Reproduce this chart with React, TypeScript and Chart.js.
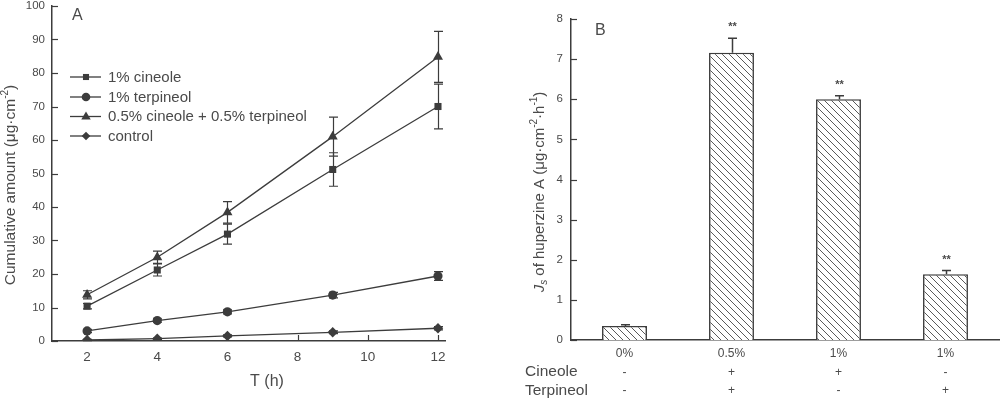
import React, { useEffect, useRef } from 'react';
import { Chart, registerables } from 'chart.js';

Chart.register(...registerables);

const FONT = "'Liberation Sans', Arial, Helvetica, sans-serif";
const INK = '#3c3c3c';
const TEXT = '#4a4a4a';

// ---------- Panel A data ----------
const timeHours = [2, 4, 6, 9, 12];
const xTicksA = [2, 4, 6, 8, 10, 12];
const yTicksA = [0, 10, 20, 30, 40, 50, 60, 70, 80, 90, 100];
const seriesNames = ['1% cineole', '1% terpineol', '0.5% cineole + 0.5% terpineol', 'control'];
const cineole1 = [10.4, 21.2, 31.9, 51.2, 70.0];
const cineole1Err = [0.8, 1.8, 3.0, 5.0, 6.7];
const terpineol1 = [3.0, 6.1, 8.7, 13.7, 19.4];
const terpineol1Err = [0.5, 0.5, 0.6, 0.8, 1.3];
const combo = [13.8, 25.0, 38.4, 61.0, 84.8];
const comboErr = [1.2, 1.8, 3.2, 5.8, 7.6];
const control = [0.3, 0.7, 1.5, 2.6, 3.8];
const controlErr = [0.2, 0.2, 0.3, 0.4, 0.5];

// ---------- Panel B data ----------
const enhancerLabels = ['0%', '0.5%', '1%', '1%'];
const fluxValues = [0.35, 7.16, 6.0, 1.64];
const fluxErr = [0.03, 0.36, 0.09, 0.09];
const significance = ['', '**', '**', '**'];
const cineoleRow = ['-', '+', '+', '-'];
const terpineolRow = ['-', '+', '-', '+'];
const yTicksB = [0, 1, 2, 3, 4, 5, 6, 7, 8];

type Seg = { t: string; size: number; dy?: number; italic?: boolean };

function drawRich(ctx: CanvasRenderingContext2D, segs: Seg[], cx: number, cy: number, rotate: boolean, color: string) {
  ctx.save();
  ctx.fillStyle = color;
  ctx.textBaseline = 'middle';
  ctx.textAlign = 'left';
  let total = 0;
  const widths = segs.map((s) => {
    ctx.font = `${s.italic ? 'italic ' : ''}${s.size}px ${FONT}`;
    const w = ctx.measureText(s.t).width;
    total += w;
    return w;
  });
  ctx.translate(cx, cy);
  if (rotate) ctx.rotate(-Math.PI / 2);
  let x = -total / 2;
  segs.forEach((s, i) => {
    ctx.font = `${s.italic ? 'italic ' : ''}${s.size}px ${FONT}`;
    ctx.fillText(s.t, x, s.dy || 0);
    x += widths[i];
  });
  ctx.restore();
}

function drawMarker(ctx: CanvasRenderingContext2D, style: string, x: number, y: number, r: number) {
  ctx.beginPath();
  if (style === 'rect') {
    const s = r * Math.SQRT1_2;
    ctx.rect(x - s, y - s, 2 * s, 2 * s);
  } else if (style === 'circle') {
    ctx.arc(x, y, r, 0, Math.PI * 2);
  } else if (style === 'triangle') {
    ctx.moveTo(x, y - r);
    ctx.lineTo(x + r * 0.95, y + r * 0.6);
    ctx.lineTo(x - r * 0.95, y + r * 0.6);
    ctx.closePath();
  } else {
    ctx.moveTo(x, y - r);
    ctx.lineTo(x + r, y);
    ctx.lineTo(x, y + r);
    ctx.lineTo(x - r, y);
    ctx.closePath();
  }
  ctx.fill();
}

const inwardTicks = (axes: { id: string; len: number }[]) => ({
  id: 'inwardTicks',
  beforeDatasetsDraw(chart: any) {
    const ctx = chart.ctx as CanvasRenderingContext2D;
    const ca = chart.chartArea;
    ctx.save();
    ctx.strokeStyle = INK;
    ctx.lineWidth = 1.2;
    for (const a of axes) {
      const s = chart.scales[a.id];
      s.ticks.forEach((_t: any, i: number) => {
        const p = Math.round(s.getPixelForTick(i)) + 0.5;
        ctx.beginPath();
        if (s.isHorizontal()) {
          ctx.moveTo(p, ca.bottom);
          ctx.lineTo(p, ca.bottom - a.len);
        } else {
          ctx.moveTo(ca.left, p);
          ctx.lineTo(ca.left + a.len, p);
        }
        ctx.stroke();
      });
    }
    ctx.restore();
  },
});

const fixAxis = (size: number) => (s: any) => {
  if (s.isHorizontal()) s.height = size;
  else s.width = size;
  s.paddingTop = 0;
  s.paddingBottom = 0;
  s.paddingLeft = 0;
  s.paddingRight = 0;
};

const noGrid = { display: false, drawTicks: false, tickLength: 0 };

export default function App() {
  const refA = useRef<HTMLCanvasElement>(null);
  const refB = useRef<HTMLCanvasElement>(null);

  useEffect(() => {
    const markerStyles = ['rect', 'circle', 'triangle', 'rectRot'];
    const markerRadius = [5, 4.6, 5.8, 5.2];
    const values = [cineole1, terpineol1, combo, control];
    const errors = [cineole1Err, terpineol1Err, comboErr, controlErr];

    const errorBarsA = {
      id: 'errorBarsA',
      beforeDatasetsDraw(chart: any) {
        const ctx = chart.ctx as CanvasRenderingContext2D;
        const ys = chart.scales.y;
        ctx.save();
        ctx.strokeStyle = INK;
        ctx.lineWidth = 1.2;
        errors.forEach((errArr, di) => {
          const meta = chart.getDatasetMeta(di);
          meta.data.forEach((pt: any, j: number) => {
            const v = values[di][j];
            const top = ys.getPixelForValue(v + errArr[j]);
            const bot = ys.getPixelForValue(Math.max(0, v - errArr[j]));
            const x = Math.round(pt.x) + 0.5;
            ctx.beginPath();
            ctx.moveTo(x, top);
            ctx.lineTo(x, bot);
            ctx.moveTo(x - 4.5, top);
            ctx.lineTo(x + 4.5, top);
            ctx.moveTo(x - 4.5, bot);
            ctx.lineTo(x + 4.5, bot);
            ctx.stroke();
          });
        });
        ctx.restore();
      },
    };

    const decorA = {
      id: 'decorA',
      afterDraw(chart: any) {
        const ctx = chart.ctx as CanvasRenderingContext2D;
        ctx.save();
        ctx.fillStyle = TEXT;
        ctx.font = `16px ${FONT}`;
        ctx.textBaseline = 'middle';
        ctx.textAlign = 'left';
        ctx.fillText('A', 72, 16);
        const rowsY = [77, 97, 116.5, 136];
        seriesNames.forEach((name, i) => {
          const y = rowsY[i];
          ctx.strokeStyle = INK;
          ctx.lineWidth = 1.3;
          ctx.beginPath();
          ctx.moveTo(70, y);
          ctx.lineTo(101, y);
          ctx.stroke();
          ctx.fillStyle = INK;
          drawMarker(ctx, markerStyles[i], 86, y, i === 2 ? 5 : 4.3);
          ctx.fillStyle = TEXT;
          ctx.font = `15px ${FONT}`;
          ctx.fillText(name, 108, y + 0.5);
        });
        ctx.restore();
        drawRich(ctx, [
          { t: 'Cumulative amount (μg·cm', size: 15.5 },
          { t: '-2', size: 10, dy: -6 },
          { t: ')', size: 15.5 },
        ], 11, 185, true, TEXT);
        drawRich(ctx, [{ t: 'T (h)', size: 16 }], 267, 382, false, TEXT);
      },
    };

    const chartA = new Chart(refA.current!, {
      type: 'line',
      data: {
        datasets: seriesNames.map((name, i) => ({
          label: name,
          data: timeHours.map((t, j) => ({ x: t, y: values[i][j] })),
          borderColor: INK,
          backgroundColor: INK,
          borderWidth: 1.3,
          pointStyle: markerStyles[i] as any,
          pointRadius: markerRadius[i],
          pointBackgroundColor: INK,
          pointBorderColor: INK,
          pointBorderWidth: 0,
          tension: 0,
          fill: false,
        })),
      },
      options: {
        animation: false,
        responsive: false,
        events: [],
        layout: { padding: { left: 0, top: 6, right: 55, bottom: 0 } },
        plugins: { legend: { display: false }, tooltip: { enabled: false } },
        scales: {
          x: {
            type: 'linear',
            min: 1,
            max: 12.2,
            afterBuildTicks: (s: any) => {
              s.ticks = xTicksA.map((v) => ({ value: v }));
            },
            afterFit: fixAxis(58),
            grid: noGrid,
            border: { display: true, color: INK, width: 1.5 },
            ticks: { color: TEXT, font: { family: FONT, size: 13.5 }, padding: 8, maxRotation: 0, autoSkip: false },
          },
          y: {
            type: 'linear',
            min: 0,
            max: 100,
            afterBuildTicks: (s: any) => {
              s.ticks = yTicksA.map((v) => ({ value: v }));
            },
            afterFit: fixAxis(52),
            grid: noGrid,
            border: { display: true, color: INK, width: 1.5 },
            ticks: { color: TEXT, font: { family: FONT, size: 11.5 }, padding: 7, autoSkip: false },
          },
        },
      },
      plugins: [inwardTicks([{ id: 'x', len: 6 }, { id: 'y', len: 6 }]), errorBarsA, decorA],
    });

    // ---------- Panel B ----------
    const pc = document.createElement('canvas');
    pc.width = 7;
    pc.height = 7;
    const pctx = pc.getContext('2d')!;
    pctx.fillStyle = '#ffffff';
    pctx.fillRect(0, 0, 7, 7);
    pctx.strokeStyle = '#5a5a5a';
    pctx.lineWidth = 1;
    for (const off of [-7, 0, 7]) {
      pctx.beginPath();
      pctx.moveTo(off, 0);
      pctx.lineTo(off + 7, 7);
      pctx.stroke();
    }
    const hatch = refB.current!.getContext('2d')!.createPattern(pc, 'repeat')!;

    const errorBarsB = {
      id: 'errorBarsB',
      afterDatasetsDraw(chart: any) {
        const ctx = chart.ctx as CanvasRenderingContext2D;
        const ys = chart.scales.y;
        const meta = chart.getDatasetMeta(0);
        ctx.save();
        ctx.strokeStyle = INK;
        ctx.lineWidth = 1.5;
        meta.data.forEach((bar: any, j: number) => {
          const base = ys.getPixelForValue(fluxValues[j]);
          const top = ys.getPixelForValue(fluxValues[j] + fluxErr[j]);
          const x = Math.round(bar.x) + 0.5;
          ctx.beginPath();
          ctx.moveTo(x, base);
          ctx.lineTo(x, top);
          ctx.moveTo(x - 4.5, top);
          ctx.lineTo(x + 4.5, top);
          ctx.stroke();
          if (significance[j]) {
            ctx.fillStyle = TEXT;
            ctx.font = `bold 11px ${FONT}`;
            ctx.textAlign = 'center';
            ctx.textBaseline = 'middle';
            ctx.fillText(significance[j], x, top - 11);
          }
        });
        ctx.restore();
      },
    };

    const decorB = {
      id: 'decorB',
      afterDraw(chart: any) {
        const ctx = chart.ctx as CanvasRenderingContext2D;
        const xs = chart.scales.x;
        ctx.save();
        ctx.fillStyle = TEXT;
        ctx.textBaseline = 'middle';
        ctx.font = `16px ${FONT}`;
        ctx.textAlign = 'left';
        ctx.fillText('B', 95, 31);
        ctx.font = `15.5px ${FONT}`;
        ctx.fillText('Cineole', 25, 372);
        ctx.fillText('Terpineol', 25, 391);
        ctx.textAlign = 'center';
        ctx.font = `12px ${FONT}`;
        enhancerLabels.forEach((_l, i) => {
          const x = xs.getPixelForValue(i);
          ctx.fillText(cineoleRow[i], x, 373);
          ctx.fillText(terpineolRow[i], x, 391);
        });
        ctx.restore();
        drawRich(ctx, [
          { t: 'J', size: 15, italic: true },
          { t: 's', size: 10, dy: 4, italic: true },
          { t: ' of huperzine A (μg·cm', size: 15 },
          { t: '-2', size: 10, dy: -6 },
          { t: '·h', size: 15 },
          { t: '-1', size: 10, dy: -6 },
          { t: ')', size: 15 },
        ], 40, 192, true, TEXT);
      },
    };

    const chartB = new Chart(refB.current!, {
      type: 'bar',
      data: {
        labels: enhancerLabels,
        datasets: [
          {
            data: fluxValues,
            backgroundColor: hatch as any,
            borderColor: INK,
            borderWidth: 1.6,
            barPercentage: 0.42,
            categoryPercentage: 1,
          },
        ],
      },
      options: {
        animation: false,
        responsive: false,
        events: [],
        layout: { padding: { left: 0, top: 19, right: 1, bottom: 0 } },
        plugins: { legend: { display: false }, tooltip: { enabled: false } },
        scales: {
          x: {
            type: 'category',
            afterFit: fixAxis(59),
            grid: noGrid,
            border: { display: true, color: INK, width: 1.5 },
            ticks: { color: TEXT, font: { family: FONT, size: 12 }, padding: 6, maxRotation: 0 },
          },
          y: {
            type: 'linear',
            min: 0,
            max: 8,
            afterBuildTicks: (s: any) => {
              s.ticks = yTicksB.map((v) => ({ value: v }));
            },
            afterFit: fixAxis(71),
            grid: noGrid,
            border: { display: true, color: INK, width: 1.5 },
            ticks: { color: TEXT, font: { family: FONT, size: 11.5 }, padding: 8 },
          },
        },
      },
      plugins: [inwardTicks([{ id: 'y', len: 6 }]), errorBarsB, decorB],
    });

    return () => {
      chartA.destroy();
      chartB.destroy();
    };
  }, []);

  return (
    <div style={{ position: 'fixed', left: 0, top: 0, width: 1000, height: 399, background: '#fff' }}>
      <canvas ref={refA} width={500} height={399} style={{ position: 'absolute', left: 0, top: 0, width: 500, height: 399 }} />
      <canvas ref={refB} width={500} height={399} style={{ position: 'absolute', left: 500, top: 0, width: 500, height: 399 }} />
    </div>
  );
}
